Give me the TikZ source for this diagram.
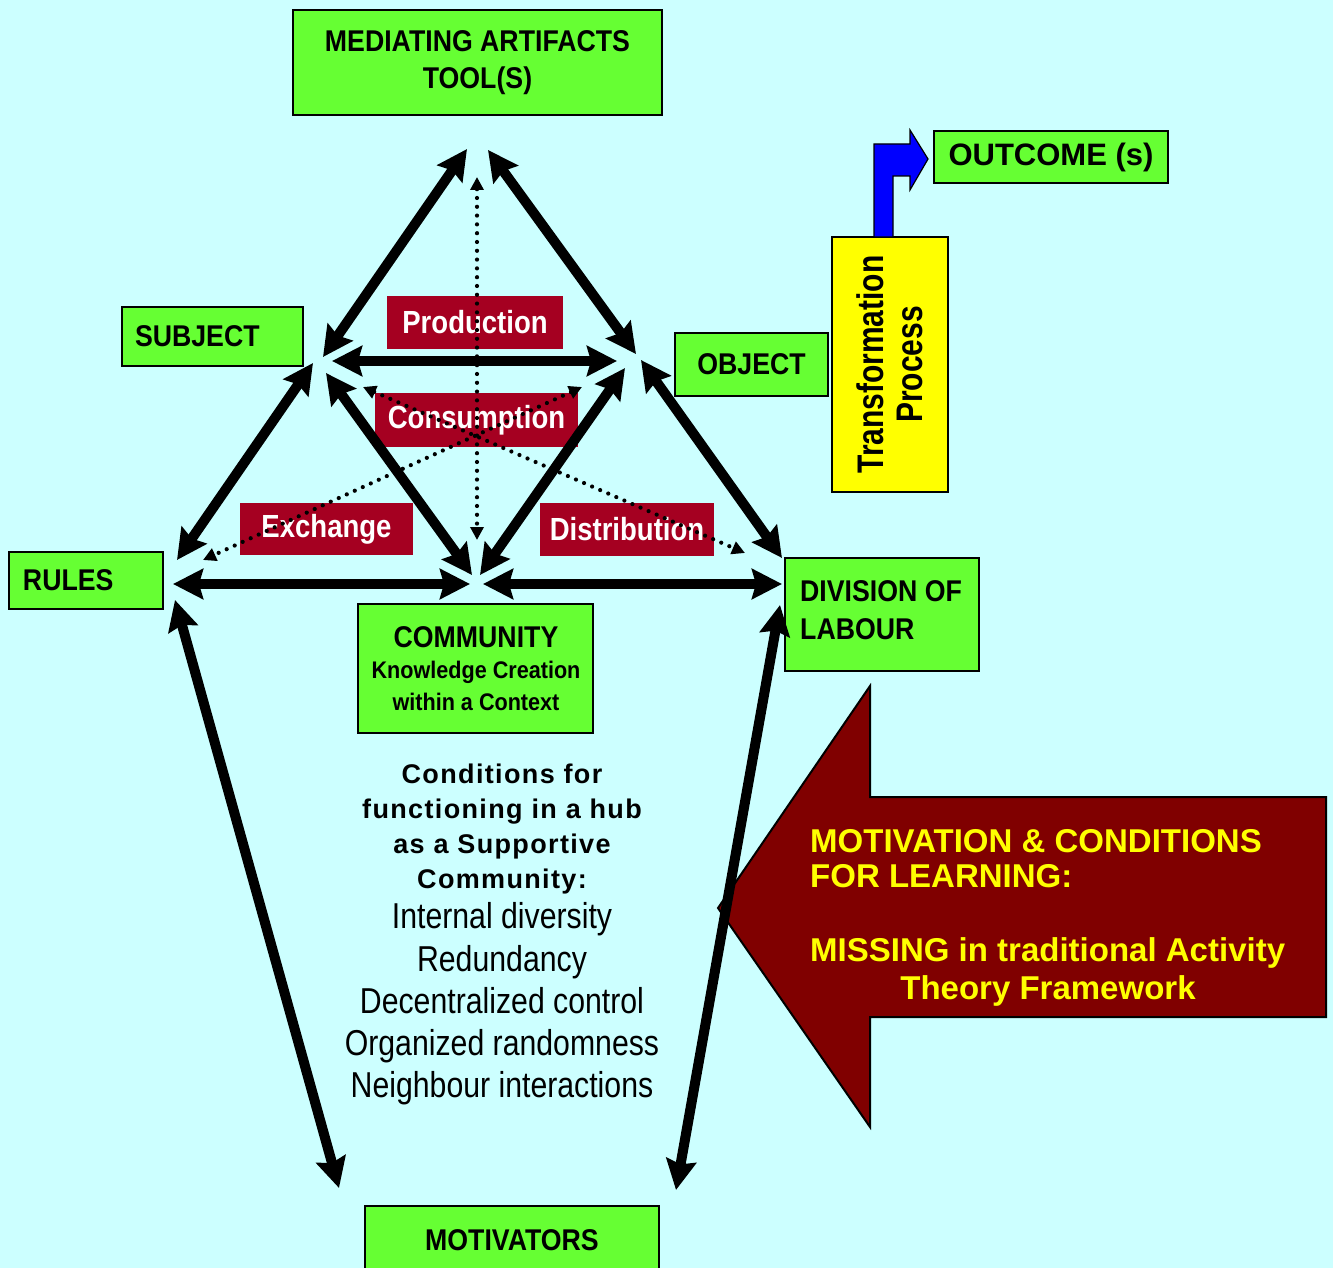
\documentclass[tikz,border=0pt]{standalone}
\usepackage{fontspec}
\setmainfont{Liberation Sans}
\newfontfamily\boxfam[FakeStretch=0.89]{Liberation Sans}
\newfontfamily\lblfam[FakeStretch=0.86]{Liberation Sans}
\newfontfamily\tallfam[FakeStretch=0.84]{Liberation Sans}
\newfontfamily\procfam[FakeStretch=0.81]{Liberation Sans}
\newfontfamily\spacedfam[LetterSpace=5]{Liberation Sans}
\newfontfamily\kfam[FakeStretch=0.9]{Liberation Sans}
\usetikzlibrary{arrows.meta}

\definecolor{bg}{HTML}{CCFFFF}
\definecolor{grn}{HTML}{66FF33}
\definecolor{lbl}{HTML}{A50021}
\definecolor{bigred}{HTML}{800000}
\definecolor{yel}{HTML}{FFFF00}
\definecolor{blu}{HTML}{0000FF}

\tikzset{
  gbox/.style={draw=black, line width=2pt, fill=grn, inner sep=0pt, text=black,
    font=\boxfam\bfseries\fontsize{30}{37}\selectfont, align=center},
  gtext/.style={inner sep=0pt, font=\boxfam\bfseries\fontsize{30}{37}\selectfont},
  rlabel/.style={fill=lbl, text=white, inner sep=0pt,
    font=\lblfam\bfseries\fontsize{32}{36}\selectfont},
  heavyarrow/.style={line width=10pt,
    arrows={Stealth[length=30pt,width=30pt,inset=4pt]-Stealth[length=30pt,width=30pt,inset=4pt]}},
  dotarrow/.style={line width=4.2pt, line cap=round, dash pattern=on 0pt off 8.8pt,
    arrows={Triangle[length=13pt,width=13pt]-Triangle[length=13pt,width=13pt]}},
  condbold/.style={anchor=base, inner sep=0pt, font=\spacedfam\bfseries\fontsize{27}{30}\selectfont},
  condreg/.style={anchor=base, inner sep=0pt, font=\tallfam\fontsize{36}{42}\selectfont},
  mottext/.style={anchor=base west, inner sep=0pt, text=yel,
    font=\bfseries\fontsize{33}{38}\selectfont},
}

\begin{document}
\begin{tikzpicture}[x=1pt,y=-1pt]
\useasboundingbox (0,0) rectangle (1333,1268);
\clip (0,0) rectangle (1333,1268);
\fill[bg] (0,0) rectangle (1333,1268);

% ---- boxes of the activity system ----
\node[gbox, minimum width=369pt, minimum height=105pt] (med) at (477.5,62.5)
  {MEDIATING ARTIFACTS\\TOOL(S)};
\node[gbox, minimum width=234pt, minimum height=52pt,
  font=\bfseries\fontsize{31}{36}\selectfont] (outcome) at (1051,157) {OUTCOME (s)};
\node[gbox, fill=yel, rotate=90, minimum width=255pt, minimum height=116pt,
  font=\procfam\bfseries\fontsize{37}{39}\selectfont] (trans) at (890,364.5)
  {Transformation\\Process};
\node[gbox, minimum width=181pt, minimum height=59pt, align=left, text width=155pt,
  inner xsep=13pt] (subject) at (212.5,336.5) {SUBJECT};
\node[gbox, minimum width=153pt, minimum height=63pt] (object) at (751.5,364.5) {OBJECT};
\node[gbox, minimum width=154pt, minimum height=57pt, align=left, text width=126pt,
  inner xsep=14pt] (rules) at (86,580.5) {RULES};
\node[gbox, minimum width=194pt, minimum height=113pt] (division) at (882,614.5) {};
\node[gtext, anchor=base west] (divline1) at (800,601) {DIVISION OF};
\node[gtext, anchor=base west] (divline2) at (800,639) {LABOUR};
\node[gbox, minimum width=235pt, minimum height=129pt] (community) at (475.5,668.5) {};
\node[gtext, anchor=base] (commtitle) at (476,647) {COMMUNITY};
\node[anchor=base, inner sep=0pt, font=\kfam\bfseries\fontsize{24}{28}\selectfont]
  (commsub1) at (476,678) {Knowledge Creation};
\node[anchor=base, inner sep=0pt, font=\kfam\bfseries\fontsize{24}{28}\selectfont]
  (commsub2) at (476,710) {within a Context};
\node[gbox, minimum width=294pt, minimum height=68pt] (motivators) at (512,1240) {MOTIVATORS};

% ---- exchange labels ----
\node[rlabel, minimum width=176pt, minimum height=53pt] (production) at (475,322.5) {Production};
\node[rlabel, minimum width=203pt, minimum height=54pt] (consumption) at (476.5,420) {Consumption};
\node[rlabel, minimum width=173pt, minimum height=52pt] (exchange) at (326.5,529) {Exchange};
\node[rlabel, minimum width=174pt, minimum height=53pt] (distribution) at (627,529.5) {Distribution};

% ---- bent arrow from the transformation to the outcome ----
\draw[fill=blu, line width=1.2pt, line join=miter]
  (874,237) -- (874,144) -- (910,144) -- (910,130) -- (928,159) -- (910,190)
  -- (910,176) -- (893,176) -- (893,237) -- cycle;

% ---- block arrow with the missing conditions ----
\draw[fill=bigred, line width=2pt, line join=miter]
  (718,908) -- (870,686) -- (870,797) -- (1326,797) -- (1326,1017)
  -- (870,1017) -- (870,1127) -- cycle;
\node[mottext] (mot1) at (810,852) {MOTIVATION \& CONDITIONS};
\node[mottext] (mot2) at (810,887) {FOR LEARNING:};
\node[mottext] (mot3) at (810,961) {MISSING in traditional Activity};
\node[mottext, anchor=base] (mot4) at (1048,999) {Theory Framework};

% ---- conditions for a supportive community ----
\node[condbold] (cond1) at (502,783) {Conditions for};
\node[condbold] (cond2) at (502,818) {functioning in a hub};
\node[condbold] (cond3) at (502,853) {as a Supportive};
\node[condbold] (cond4) at (502,888) {Community:};
\node[condreg] (item1) at (502,928) {Internal diversity};
\node[condreg] (item2) at (502,971) {Redundancy};
\node[condreg] (item3) at (502,1013) {Decentralized control};
\node[condreg] (item4) at (502,1055) {Organized randomness};
\node[condreg] (item5) at (502,1097) {Neighbour interactions};

% ---- arrow ends ----
\coordinate (apexL) at (467,149);
\coordinate (apexR) at (488,150);
\coordinate (subjUp) at (323,357);
\coordinate (objUp) at (636,354);
\coordinate (subjH) at (332,361);
\coordinate (objH) at (617,361);
\coordinate (subjDL) at (313,363);
\coordinate (rulesUp) at (177,560);
\coordinate (subjDR) at (326,373);
\coordinate (commL) at (472,575);
\coordinate (objDL) at (625,368);
\coordinate (commR) at (480,575);
\coordinate (objDR) at (641,360);
\coordinate (divUp) at (782,558);
\coordinate (rulesH) at (173,584);
\coordinate (commHL) at (470,584);
\coordinate (commHR) at (483,584);
\coordinate (divH) at (782,584);
\coordinate (rulesDown) at (175,600);
\coordinate (motL) at (339,1188);
\coordinate (divDown) at (780,605);
\coordinate (motR) at (676,1190);
\coordinate (dotTop) at (477,177);
\coordinate (dotBot) at (477,540);
\coordinate (dotSubj) at (363,387);
\coordinate (dotDiv) at (745,553);
\coordinate (dotObj) at (582,387);
\coordinate (dotRules) at (203,560);

% ---- heavy two-way arrows ----
\draw[heavyarrow] (apexL) -- (subjUp);
\draw[heavyarrow] (apexR) -- (objUp);
\draw[heavyarrow] (subjH) -- (objH);
\draw[heavyarrow] (subjDL) -- (rulesUp);
\draw[heavyarrow] (subjDR) -- (commL);
\draw[heavyarrow] (objDL) -- (commR);
\draw[heavyarrow] (objDR) -- (divUp);
\draw[heavyarrow] (rulesH) -- (commHL);
\draw[heavyarrow] (commHR) -- (divH);
\draw[heavyarrow] (rulesDown) -- (motL);
\draw[heavyarrow] (divDown) -- (motR);

% ---- dotted two-way arrows ----
\draw[dotarrow] (dotTop) -- (dotBot);
\draw[dotarrow] (dotSubj) -- (dotDiv);
\draw[dotarrow] (dotObj) -- (dotRules);
\end{tikzpicture}
\end{document}
